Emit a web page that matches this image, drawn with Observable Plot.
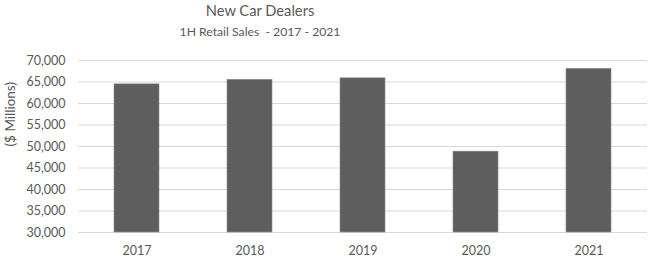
<!DOCTYPE html>
<html>
<head>
<meta charset="utf-8">
<script src="https://cdn.jsdelivr.net/npm/d3@7"></script>
<script src="https://cdn.jsdelivr.net/npm/@observablehq/plot@0.6"></script>
<style>
  body { margin: 0; background: #fff; font-family: Lato, sans-serif; color: #595959; }
  #wrap { width: 650px; height: 263px; position: relative; overflow: hidden; }
  #head { position: relative; height: 50px; }
  .t { position: absolute; left: 260px; transform: translate(-50%, -50%); white-space: pre; }
  #title { top: 10px; font-size: 14.7px; }
  #subtitle { top: 31px; font-size: 12.2px; }
</style>
</head>
<body>
<div id="wrap">
  <div id="head">
    <div id="title" class="t"></div>
    <div id="subtitle" class="t"></div>
  </div>
  <div id="chart"></div>
</div>
<script>
const title = "New Car Dealers";
const subtitle = "1H Retail Sales  - 2017 - 2021";
const yLabel = "($ Millions)";
const years = ["2017", "2018", "2019", "2020", "2021"];
const sales = [64450, 65500, 65850, 48800, 68050];
const yTicks = [30000, 35000, 40000, 45000, 50000, 55000, 60000, 65000, 70000];

document.getElementById("title").textContent = title;
document.getElementById("subtitle").textContent = subtitle;

const data = years.map((y, i) => ({year: y, value: sales[i]}));
const yMin = yTicks[0];
const yMax = yTicks[yTicks.length - 1];

const chart = Plot.plot({
  width: 650,
  height: 213,
  marginTop: 10,
  marginBottom: 31,
  marginLeft: 78,
  marginRight: 3,
  style: {fontFamily: "Lato, sans-serif", fontSize: "12.5px", color: "#595959", background: "#fff"},
  x: {domain: years, paddingInner: 0.6, paddingOuter: 0.3, label: null},
  y: {domain: [yMin, yMax], label: null},
  marks: [
    Plot.gridY(yTicks.slice(1), {stroke: "#d9d9d9", strokeOpacity: 1, strokeWidth: 1}),
    Plot.ruleY([yMin], {stroke: "#d9d9d9", strokeWidth: 1}),
    Plot.barY(data, {x: "year", y1: yMin, y2: "value", fill: "#5e5e5e", stroke: "#8a8a8a", strokeWidth: 0.6}),
    Plot.axisY(yTicks, {tickSize: 0, tickPadding: 13, tickFormat: d3.format(","), fill: "#595959", label: null}),
    Plot.axisX({tickSize: 0, tickPadding: 14, fill: "#595959", label: null}),
    Plot.text([yLabel], {frameAnchor: "left", dx: -68, rotate: -90, fontSize: 13.5, fill: "#595959"})
  ]
});
document.getElementById("chart").appendChild(chart);
</script>
</body>
</html>
